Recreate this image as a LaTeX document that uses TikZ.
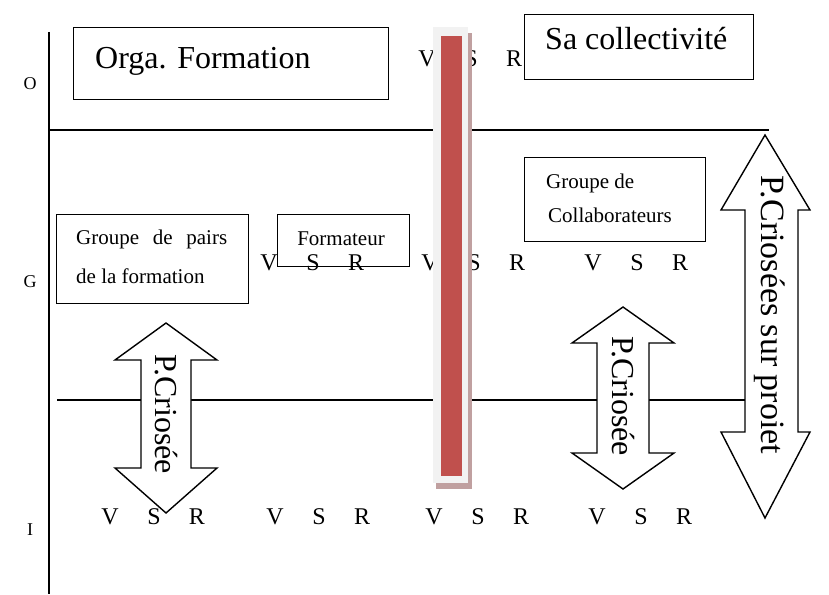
\documentclass[tikz,border=0pt]{standalone}
\usepackage{fontspec}
\setmainfont{Liberation Serif}
\usetikzlibrary{positioning}
\definecolor{BarreRouge}{RGB}{192,80,77}
\definecolor{BarreFond}{RGB}{242,242,242}
\definecolor{BarreOmbre}{RGB}{192,160,160}

\begin{document}
\begin{tikzpicture}[x=1pt,y=-1pt,
  cadre/.style={draw,line width=1.4pt,inner sep=0pt},
  trait/.style={line width=1.6pt},
  lettre/.style={font=\fontsize{24}{28}\selectfont,inner sep=0pt},
  niveau/.style={font=\fontsize{18}{22}\selectfont,inner sep=0pt},
  petit/.style={font=\fontsize{21}{25}\selectfont,inner sep=0pt},
  grand/.style={font=\fontsize{32}{38}\selectfont,inner sep=0pt},
  fleche/.style={draw,fill=white,line width=1.4pt,line join=miter}]
  \useasboundingbox (0,0) rectangle (829,594);

  % axes et niveaux
  \draw[trait] (49,32)--(49,594);
  \draw[trait] (49,130)--(769,130);
  \draw[trait] (57,400)--(745,400);
  \node[niveau] (nivO) at (30,84){O};
  \node[niveau] (nivG) at (30,282){G};
  \node[niveau] (nivI) at (30,530){I};

  % fleches doubles
  \draw[fleche] (166,323)--(217,360)--(191,360)--(191,468)--(217,468)--(166,513)
    --(115,468)--(141,468)--(141,360)--(115,360)--cycle;
  \draw[fleche] (623,307)--(674,343)--(649,343)--(649,453)--(674,453)--(623,489)
    --(572,453)--(597,453)--(597,343)--(572,343)--cycle;
  \draw[fleche] (765,135)--(810,210)--(798,210)--(798,432)--(810,432)--(765,518)
    --(721,432)--(745,432)--(745,210)--(721,210)--cycle;
  \node[grand,rotate=-90] (crois1) at (166,414){P.Criosée};
  \node[grand,rotate=-90] (crois2) at (623,396){P.Criosée};
  \node[grand,rotate=-90,font=\fontsize{34}{40}\selectfont] (croisprojet) at (770,315){P.Criosées sur proiet};

  % cadres
  \node[cadre,anchor=north west,minimum width=315,minimum height=72] (orga) at (73,27){};
  \node[grand,anchor=west] (orgatxt) at (95,61){Orga. Formation};
  \node[cadre,anchor=north west,minimum width=229,minimum height=65] (collect) at (524,14){};
  \node[grand,anchor=west] (collecttxt) at (545,39){Sa collectivité};
  \node[cadre,anchor=north west,minimum width=192,minimum height=89] (pairs) at (56,214){};
  \node[petit,anchor=west] (pairs1) at (76,239){\hbox to 151pt{Groupe\hfill de\hfill pairs}};
  \node[petit,anchor=west] (pairs2) at (76,276){de la formation};
  \node[cadre,anchor=north west,minimum width=132,minimum height=52] (formateur) at (277,214){};
  \node[petit] (formtxt) at (341,239){Formateur};
  \node[cadre,anchor=north west,minimum width=181,minimum height=84] (collab) at (524,157){};
  \node[petit,anchor=west] (collab1) at (546,183){Groupe de};
  \node[petit,anchor=west] (collab2) at (548,215){Collaborateurs};

  % V S R
  \foreach \vx/\vy [count=\i] in {427/59,269/263,430/263,593/263,110/517,275/517,434/517,597/517}{
    \node[lettre] (v\i) at (\vx,\vy){V};
    \node[lettre] (s\i) at (\vx+44,\vy){S};
    \node[lettre] (r\i) at (\vx+87,\vy){R};
  }

  % barre rouge
  \fill[BarreOmbre] (436,33) rectangle (472,489);
  \fill[BarreFond] (433,27) rectangle (468,483);
  \fill[BarreRouge] (441,36) rectangle (462,476);
\end{tikzpicture}
\end{document}
